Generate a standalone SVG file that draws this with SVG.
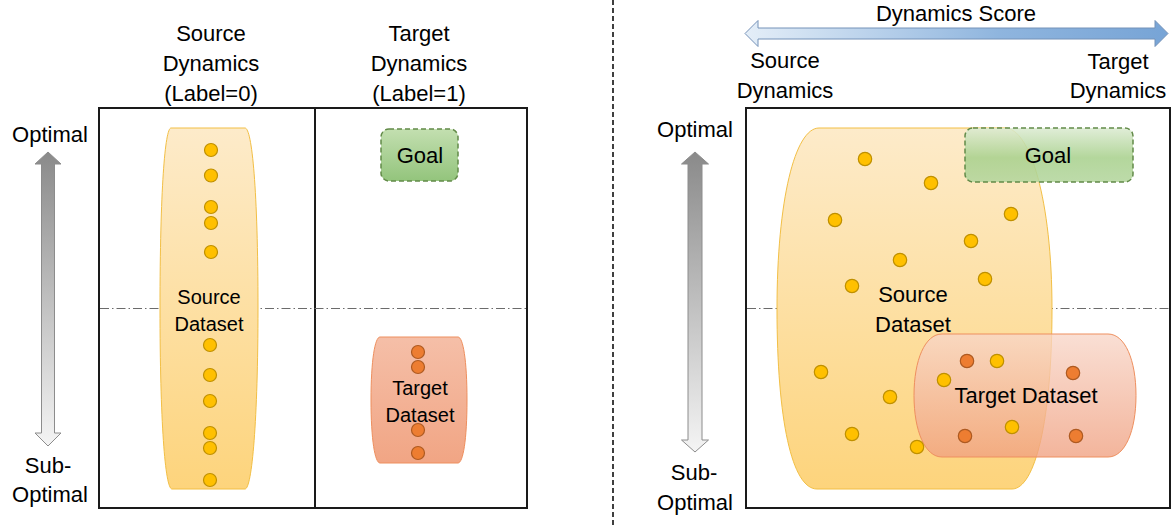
<svg xmlns="http://www.w3.org/2000/svg" width="1175" height="525" viewBox="0 0 1175 525">
  <defs>
    <linearGradient id="srcFill" x1="0" y1="0" x2="0" y2="1">
      <stop offset="0" stop-color="#fdebca"/>
      <stop offset="1" stop-color="#fdd47c"/>
    </linearGradient>
    <linearGradient id="tgtFill" x1="0" y1="0" x2="0" y2="1">
      <stop offset="0" stop-color="#f5bfa8"/>
      <stop offset="1" stop-color="#f1a584"/>
    </linearGradient>
    <linearGradient id="tgtFillWide" x1="0" y1="0" x2="0" y2="1">
      <stop offset="0" stop-color="#f8d6c8"/>
      <stop offset="1" stop-color="#f0a080"/>
    </linearGradient>
    <linearGradient id="goalFill" x1="0" y1="0" x2="0" y2="1">
      <stop offset="0" stop-color="#c3dfb0"/>
      <stop offset="1" stop-color="#93c47c"/>
    </linearGradient>
    <linearGradient id="goalFillWide" x1="0" y1="0" x2="0" y2="1">
      <stop offset="0" stop-color="#dcebd2"/>
      <stop offset="0.55" stop-color="#a9d18e"/>
      <stop offset="1" stop-color="#b4d69e"/>
    </linearGradient>
    <linearGradient id="grayArrow" x1="0" y1="0" x2="0" y2="1">
      <stop offset="0" stop-color="#8a8a8a"/>
      <stop offset="1" stop-color="#f4f4f4"/>
    </linearGradient>
    <linearGradient id="blueArrow" x1="0" y1="0" x2="1" y2="0">
      <stop offset="0" stop-color="#e4eef8"/>
      <stop offset="0.6" stop-color="#8fb5de"/>
      <stop offset="1" stop-color="#77a4d6"/>
    </linearGradient>
    <style>
      .t { font-family: "Liberation Sans", Arial, sans-serif; font-size: 22px; fill: #000; text-anchor: middle; }
      .s { font-size: 20px; }
      .frame { fill: none; stroke: #1a1a1a; stroke-width: 2; }
      .divider { stroke: #1a1a1a; stroke-width: 2; }
      .dashdot { stroke: #6b6b6b; stroke-width: 1; stroke-dasharray: 9 3 1.5 3; fill: none; }
      .sep { stroke: #000; stroke-width: 1.5; stroke-dasharray: 5 3; }
      .src { fill: url(#srcFill); stroke: #f2bf45; stroke-width: 1; }
      .tgt { fill: url(#tgtFill); stroke: #ee8f5e; stroke-width: 1; }
      .tgtw { fill: url(#tgtFillWide); fill-opacity: 0.78; stroke: #ee8f5e; stroke-width: 1; }
      .goal { fill: url(#goalFill); stroke: #628a48; stroke-width: 1.5; stroke-dasharray: 5 3; }
      .goalw { fill: url(#goalFillWide); fill-opacity: 0.88; stroke: #628a48; stroke-width: 1.5; stroke-dasharray: 5 3; }
      .y { fill: #ffc000; stroke: #bf9000; stroke-width: 1.2; }
      .o { fill: #ed7d31; stroke: #ae5a21; stroke-width: 1.2; }
      .garrow { fill: url(#grayArrow); stroke: #8c8c8c; stroke-width: 1; }
      .barrow { fill: url(#blueArrow); stroke: #7592b8; stroke-width: 1; }
    </style>
  </defs>

  <!-- panel separator -->
  <line class="sep" x1="613" y1="0" x2="613" y2="525"/>

  <!-- ===== left panel: per-dynamics labels ===== -->
  <g id="left-frame">
    <rect class="frame" x="99" y="108" width="428" height="400"/>
    <line class="divider" x1="315" y1="108" x2="315" y2="508"/>
    <line class="dashdot" x1="100" y1="308.5" x2="526" y2="308.5"/>
  </g>

  <g id="left-header-source">
    <text class="t" x="211" y="41">Source</text>
    <text class="t" x="211" y="71">Dynamics</text>
    <text class="t" x="211" y="101">(Label=0)</text>
  </g>
  <g id="left-header-target">
    <text class="t" x="419" y="41">Target</text>
    <text class="t" x="419" y="71">Dynamics</text>
    <text class="t" x="419" y="101">(Label=1)</text>
  </g>

  <g id="left-optimality-axis">
    <path class="garrow" d="M48,152 L61,164 L54.5,164 L54.5,433 L61,433 L48,446 L35,433 L41.5,433 L41.5,164 L35,164 Z"/>
    <text class="t" x="50" y="142">Optimal</text>
    <text class="t" x="48" y="473">Sub-</text>
    <text class="t" x="50" y="502">Optimal</text>
  </g>

  <g id="left-source-dataset">
    <path class="src" d="M171,128 L245,128 C252,128 258,190 258,308 C258,420 252,489 245,489 L172,489 C165,489 160,420 160,308 C160,190 165,128 171,128 Z"/>
    <circle class="y" cx="211" cy="150" r="6.5"/>
    <circle class="y" cx="211" cy="175.5" r="6.5"/>
    <circle class="y" cx="211" cy="207" r="6.5"/>
    <circle class="y" cx="211" cy="223" r="6.5"/>
    <circle class="y" cx="211" cy="252" r="6.5"/>
    <circle class="y" cx="210" cy="345" r="6.5"/>
    <circle class="y" cx="210" cy="375" r="6.5"/>
    <circle class="y" cx="210" cy="401" r="6.5"/>
    <circle class="y" cx="210" cy="433" r="6.5"/>
    <circle class="y" cx="210" cy="448" r="6.5"/>
    <circle class="y" cx="210" cy="480" r="6.5"/>
    <text class="t s" x="209" y="304">Source</text>
    <text class="t s" x="209" y="331">Dataset</text>
  </g>

  <g id="left-goal">
    <rect class="goal" x="381" y="129" width="77" height="52" rx="8"/>
    <text class="t" x="420" y="163">Goal</text>
  </g>

  <g id="left-target-dataset">
    <path class="tgt" d="M380,337 L458,337 C463,337 467,360 467,400 C467,440 463,463 458,463 L380,463 C375,463 371,440 371,400 C371,360 375,337 380,337 Z"/>
    <circle class="o" cx="418" cy="352" r="6.5"/>
    <circle class="o" cx="418" cy="367" r="6.5"/>
    <circle class="o" cx="418" cy="430" r="6.5"/>
    <circle class="o" cx="418" cy="453" r="6.5"/>
    <text class="t s" x="420" y="395">Target</text>
    <text class="t s" x="420" y="422">Dataset</text>
  </g>

  <!-- ===== right panel: continuous dynamics score ===== -->
  <g id="score-axis">
    <path class="barrow" d="M745,33.5 L758,20.5 L758,28 L1155,28 L1155,20.5 L1168,33.5 L1155,46.5 L1155,39 L758,39 L758,46.5 Z"/>
    <text class="t" x="956" y="21">Dynamics Score</text>
    <text class="t" x="785" y="68">Source</text>
    <text class="t" x="785" y="98">Dynamics</text>
    <text class="t" x="1118" y="69">Target</text>
    <text class="t" x="1118" y="98">Dynamics</text>
  </g>

  <g id="right-frame">
    <rect class="frame" x="746" y="108" width="424" height="400"/>
    <line class="dashdot" x1="747" y1="308.5" x2="1169" y2="308.5"/>
  </g>

  <g id="right-optimality-axis">
    <path class="garrow" d="M695,152 L708.5,164 L702,164 L702,440 L708.5,440 L695,452 L681.5,440 L688,440 L688,164 L681.5,164 Z"/>
    <text class="t" x="695" y="137">Optimal</text>
    <text class="t" x="694" y="480">Sub-</text>
    <text class="t" x="695" y="510">Optimal</text>
  </g>

  <g id="right-source-dataset">
    <path class="src" d="M819,128 L1005,128 C1030,128 1052,200 1052,309 C1052,420 1035,489 1012,489 L817,489 C792,489 777,420 777,309 C777,200 795,128 819,128 Z"/>
  </g>

  <g id="right-goal">
    <rect class="goalw" x="965" y="128" width="168" height="54" rx="8"/>
    <text class="t" x="1048" y="163">Goal</text>
  </g>

  <g id="right-source-labels">
    <text class="t" x="913" y="302">Source</text>
    <text class="t" x="913" y="332">Dataset</text>
  </g>

  <g id="right-target-dataset">
    <path class="tgtw" d="M942,334 L1108,334 C1125,334 1136,360 1136,395.5 C1136,431 1125,457 1108,457 L942,457 C925,457 914,431 914,395.5 C914,360 925,334 942,334 Z"/>
    <text class="t" x="1026" y="403">Target Dataset</text>
  </g>

  <g id="right-samples">
    <circle class="y" cx="865" cy="159" r="6.7"/>
    <circle class="y" cx="931" cy="183" r="6.7"/>
    <circle class="y" cx="835" cy="220" r="6.7"/>
    <circle class="y" cx="1011" cy="214" r="6.7"/>
    <circle class="y" cx="971" cy="241" r="6.7"/>
    <circle class="y" cx="900" cy="260" r="6.7"/>
    <circle class="y" cx="985" cy="279" r="6.7"/>
    <circle class="y" cx="852" cy="286" r="6.7"/>
    <circle class="y" cx="821" cy="372" r="6.7"/>
    <circle class="y" cx="997" cy="361" r="6.7"/>
    <circle class="y" cx="944" cy="380" r="6.7"/>
    <circle class="y" cx="890" cy="397" r="6.7"/>
    <circle class="y" cx="852" cy="434" r="6.7"/>
    <circle class="y" cx="917" cy="447" r="6.7"/>
    <circle class="y" cx="1012" cy="427" r="6.7"/>
    <circle class="o" cx="967" cy="361" r="6.7"/>
    <circle class="o" cx="1073" cy="373" r="6.7"/>
    <circle class="o" cx="965" cy="436" r="6.7"/>
    <circle class="o" cx="1076" cy="436" r="6.7"/>
  </g>
</svg>
